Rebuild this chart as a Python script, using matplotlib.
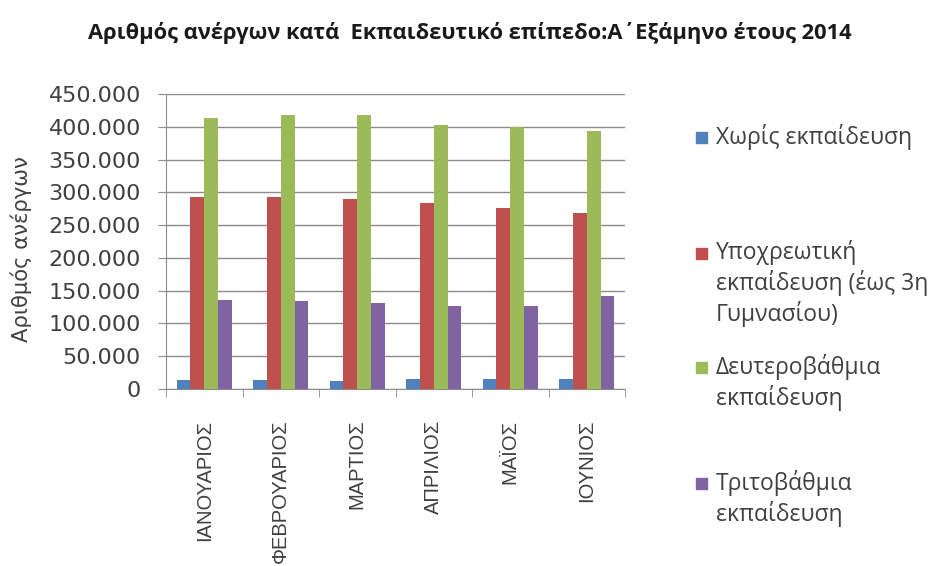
import matplotlib
matplotlib.use("Agg")
import matplotlib.pyplot as plt
import numpy as np
from matplotlib.patches import Rectangle
from matplotlib.ticker import FuncFormatter, MultipleLocator

months = ["ΙΑΝΟΥΑΡΙΟΣ", "ΦΕΒΡΟΥΑΡΙΟΣ", "ΜΑΡΤΙΟΣ", "ΑΠΡΙΛΙΟΣ", "ΜΑΪΟΣ", "ΙΟΥΝΙΟΣ"]
series_names = [
    "Χωρίς εκπαίδευση",
    "Υποχρεωτική\nεκπαίδευση (έως 3η\nΓυμνασίου)",
    "Δευτεροβάθμια\nεκπαίδευση",
    "Τριτοβάθμια\nεκπαίδευση",
]
no_edu = [13000, 13000, 12500, 15000, 15000, 15000]
compulsory = [293000, 293000, 290500, 283000, 275500, 268000]
secondary = [414000, 417500, 417500, 403000, 399500, 393500]
tertiary = [135500, 134000, 131500, 126500, 127000, 142500]
values = [no_edu, compulsory, secondary, tertiary]
colors = ["#4F81BD", "#C0504D", "#9BBB59", "#8064A2"]

W, H = 938, 566
fig = plt.figure(figsize=(W / 100, H / 100), dpi=100)
ax = fig.add_axes([166 / W, 1 - 389 / H, (625 - 166) / W, (389 - 94) / H])

x = np.arange(len(months))
bw = 0.18
offsets = (np.arange(4) - 1.5) * bw
for i, (vals, c) in enumerate(zip(values, colors)):
    ax.bar(x + offsets[i], vals, width=bw, color=c, zorder=3)

ax.set_xlim(-0.5, len(months) - 0.5)
ax.set_ylim(0, 450000)
ax.yaxis.set_major_locator(MultipleLocator(50000))
ax.yaxis.set_major_formatter(FuncFormatter(lambda v, p: "0" if v == 0 else f"{int(v):,}".replace(",", ".")))
ax.grid(axis="y", color="#8c8c8c", linewidth=1, zorder=0)
for s in ["top", "right"]:
    ax.spines[s].set_visible(False)
ax.spines["left"].set_color("#8c8c8c")
ax.spines["bottom"].set_color("#8c8c8c")
ax.tick_params(axis="y", length=6, color="#8c8c8c", labelsize=16, labelcolor="#404040", pad=12)
ax.set_xticks(x)
ax.set_xticklabels(months, rotation=90, fontsize=14.5, color="#404040", family="Liberation Sans")
ax.tick_params(axis="x", length=0, pad=22)
ax.set_xticks(np.arange(len(months) + 1) - 0.5, minor=True)
ax.tick_params(axis="x", which="minor", length=6, color="#8c8c8c")

fig.text(21 / W, 1 - 249 / H, "Αριθμός ανέργων", rotation=90, ha="center", va="center",
         fontsize=15.2, color="#404040")

fig.text(470 / W, 1 - 33 / H, "Αριθμός ανέργων κατά  Εκπαιδευτικό επίπεδο:Α΄Εξάμηνο έτους 2014",
         ha="center", va="center", fontsize=15.75, fontweight="bold", color="#1a1a1a", family="Open Sans")

# legend
first_line = [137, 253, 367, 483]
for name, c, cy in zip(series_names, colors, first_line):
    fig.patches.append(Rectangle((696 / W, 1 - (cy + 6) / H), 11 / W, 11 / H,
                                 transform=fig.transFigure, color=c, figure=fig))
    fig.text(716 / W, 1 - (cy - 13) / H, name, ha="left", va="top", fontsize=16.5,
             color="#404040", family="Open Sans", linespacing=1.24)

fig.savefig("out.png", dpi=100)
